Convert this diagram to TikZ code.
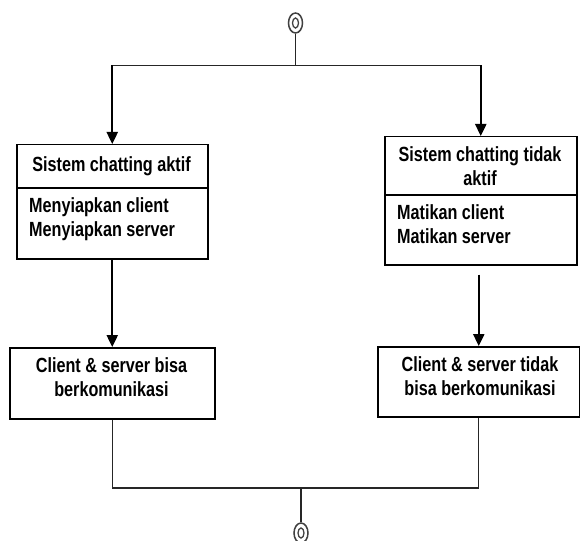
\documentclass[tikz,border=0pt]{standalone}
\usepackage{fontspec}
\setmainfont{Liberation Sans}[FakeStretch=0.79]
\usetikzlibrary{arrows.meta,shapes.geometric}
\tikzset{
  boxnode/.style={draw=black, line width=1.5pt, rectangle, anchor=north west, inner sep=0pt},
  txt/.style={inner sep=0pt, font=\fontsize{20.5}{24.5}\selectfont\bfseries},
  thinline/.style={draw=black!85, line width=1.1pt},
  arr/.style={draw=black, line width=2.4pt, -{Triangle[width=11pt,length=12pt]}},
  sym/.style={draw=black!75, line width=1.5pt, ellipse, minimum width=14pt, minimum height=20pt, inner sep=0pt},
  symin/.style={draw=black!75, line width=1.3pt, ellipse, minimum width=6pt, minimum height=10pt, inner sep=0pt}
}
\begin{document}
\begin{tikzpicture}[x=1pt,y=-1pt]
\useasboundingbox (0,0) rectangle (580,540);
% top and bottom symbols
\node[sym] (top) at (295.5,23) {};
\node[symin] (topin) at (295.5,23) {};
\node[sym] (bot) at (301,533) {};
\node[symin] (botin) at (301,533) {};
% boxes
\node[boxnode, minimum width=191pt, minimum height=114pt] (A) at (16,144) {};
\node[boxnode, minimum width=192pt, minimum height=128pt] (B) at (384,136) {};
\node[boxnode, minimum width=205pt, minimum height=71pt] (C) at (9,347) {};
\node[boxnode, minimum width=202pt, minimum height=70pt] (D) at (377,346) {};
% dividers
\draw[line width=1.5pt] (A.west |- 0,188) -- (A.east |- 0,188);
\draw[line width=1.5pt] (B.west |- 0,195) -- (B.east |- 0,195);
% texts
\node[txt] (Ah) at (111.5,166) {Sistem chatting aktif};
\node[txt, align=left, anchor=west] (Ab) at (29,219) {Menyiapkan client\\Menyiapkan server};
\node[txt, align=center] (Bh) at (480,166) {Sistem chatting tidak\\aktif};
\node[txt, align=left, anchor=west] (Bb) at (397,224) {Matikan client\\Matikan server};
\node[txt, align=center] (Ct) at (111.5,377) {Client \& server bisa\\berkomunikasi};
\node[txt, align=center] (Dt) at (480,376) {Client \& server tidak\\bisa berkomunikasi};
% connectors
\coordinate (jt) at (295.5,65.5);
\coordinate (jb) at (301,488);
\draw[thinline] (top) -- (jt);
\draw[thinline] (A.north |- jt) -- (B.north |- jt);
\draw[arr] (A.north |- jt) -- (A.north);
\draw[arr] (B.north |- jt) -- (B.north);
\draw[arr] (A.south) -- (C.north);
\draw[arr] ([yshift=-9pt]D.north |- B.south) -- (D.north);
\draw[thinline] (C.south) -- (C.south |- jb) -- (D.south |- jb) -- (D.south);
\draw[thinline] (jb) -- (bot);
\end{tikzpicture}
\end{document}
